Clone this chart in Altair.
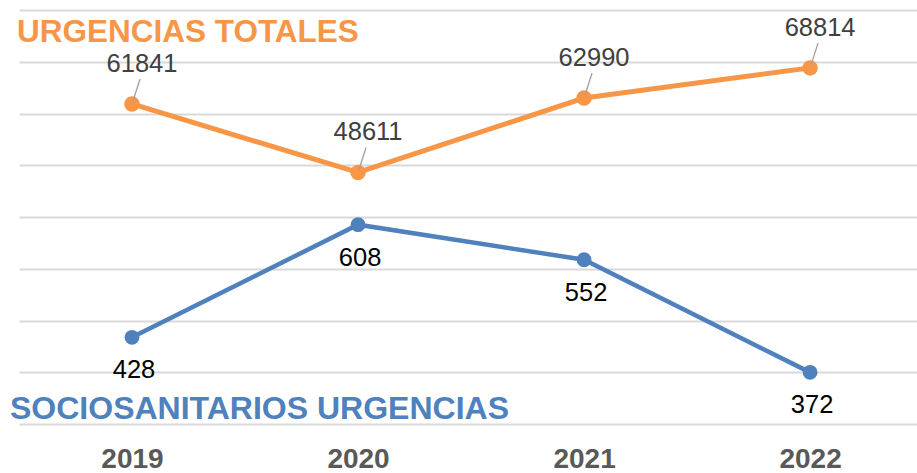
import altair as alt
import pandas as pd

years = [2019, 2020, 2021, 2022]
totales = [61841, 48611, 62990, 68814]
socio = [428, 608, 552, 372]
title_total = "URGENCIAS TOTALES"
title_socio = "SOCIOSANITARIOS URGENCIAS"

ORANGE = "#F79646"
BLUE = "#4F81BD"
FONT = "Liberation Sans"

df = pd.DataFrame({"year": years, "total": totales, "socio": socio})
base = alt.Chart(df)

x_enc = alt.X(
    "year:Q",
    scale=alt.Scale(domain=[2018.5, 2022.473], nice=False, zero=False),
    axis=alt.Axis(
        values=years, format="d", title=None, grid=False, domain=False,
        ticks=False, tickSize=0, labelFont=FONT, labelFontSize=28,
        labelFontWeight="bold", labelColor="#595959", labelPadding=35,
        labelBaseline="middle", labelFlush=False,
    ),
)

y_tot = alt.Y(
    "total:Q",
    scale=alt.Scale(domain=[0, 80000], nice=False, zero=True),
    axis=alt.Axis(
        values=list(range(0, 80001, 10000)), grid=True, labels=False,
        ticks=False, domain=False, title=None, gridColor="#d9d9d9", gridWidth=1.8,
    ),
)
y_soc = alt.Y(
    "socio:Q",
    scale=alt.Scale(domain=[289.5, 951], nice=False, zero=False),
    axis=None,
)

orange = alt.layer(
    base.mark_line(color=ORANGE, strokeWidth=5).encode(x=x_enc, y=y_tot),
    base.mark_point(filled=True, opacity=1, color=ORANGE, size=240, shape="circle").encode(x=x_enc, y=y_tot),
    base.mark_rule(color="#a0a0a0", strokeWidth=1.3, xOffset=1, yOffset=-3, x2Offset=8, y2Offset=-25).encode(
        x=x_enc, y=y_tot, x2="year:Q", y2="total:Q"),
    base.mark_text(font=FONT, fontSize=25.5, color="#404040", dx=10, dy=-40, baseline="middle").encode(
        x=x_enc, y=y_tot, text=alt.Text("total:Q", format="d")),
)

blue = alt.layer(
    base.mark_line(color=BLUE, strokeWidth=4.5).encode(x=x_enc, y=y_soc),
    base.mark_point(filled=True, opacity=1, color=BLUE, size=220, shape="circle").encode(x=x_enc, y=y_soc),
    base.mark_text(font=FONT, fontSize=25.5, color="#000000", dx=2, dy=33, baseline="middle").encode(
        x=x_enc, y=y_soc, text=alt.Text("socio:Q", format="d")),
)

tdf1 = pd.DataFrame({"t": [title_total]})
tdf2 = pd.DataFrame({"t": [title_socio]})
t1 = alt.Chart(tdf1).mark_text(
    font=FONT, fontSize=31.5, fontWeight="bold", color=ORANGE, align="left", baseline="alphabetic"
).encode(text="t:N", x=alt.value(-2), y=alt.value(32))
t2 = alt.Chart(tdf2).mark_text(
    font=FONT, fontSize=32, fontWeight="bold", color=BLUE, align="left", baseline="alphabetic"
).encode(text="t:N", x=alt.value(-9), y=alt.value(409))

chart = alt.layer(orange, blue, t1, t2).resolve_scale(y="independent").properties(
    width=898, height=414,
    autosize=alt.AutoSizeParams(type="none"),
    padding={"left": 19, "top": 10, "right": 0, "bottom": 49},
    background="white",
).configure_view(stroke=None)

chart.save("out.html", embed_options={"renderer": "svg", "actions": False})
